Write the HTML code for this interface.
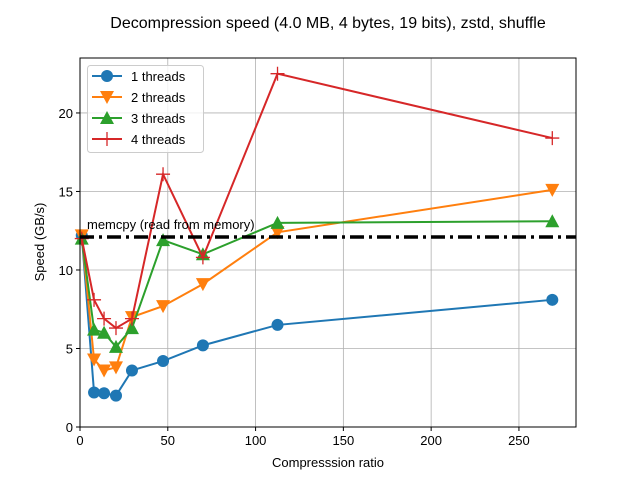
<!DOCTYPE html>
<html><head><meta charset="utf-8"><style>
html,body{margin:0;padding:0;background:#fff}
svg text{font-family:"Liberation Sans","DejaVu Sans",sans-serif}
</style></head><body>
<svg id="chart" width="640" height="480" xmlns="http://www.w3.org/2000/svg">
<rect width="640" height="480" fill="#fff"/>
<text x="328" y="28" font-size="16" text-anchor="middle">Decompression speed (4.0 MB, 4 bytes, 19 bits), zstd, shuffle</text>
<g id="grid"></g>
<g id="series"></g>
<rect x="80" y="58" width="496" height="369" fill="none" stroke="#000" stroke-width="1"/>
<g id="axes"></g>
<text x="328" y="467" font-size="13" text-anchor="middle">Compresssion ratio</text>
<text transform="translate(44,242) rotate(-90)" font-size="13" text-anchor="middle">Speed (GB/s)</text>
<g id="legend"></g>
</svg>
<script>
const ratios = [1, 8, 13.7, 20.5, 29.6, 47.3, 70, 112.5, 269];
const s1 = [12.2, 2.2, 2.15, 2.0, 3.6, 4.2, 5.2, 6.5, 8.1];
const s2 = [12.2, 4.3, 3.6, 3.8, 7.0, 7.7, 9.1, 12.4, 15.1];
const s3 = [12.0, 6.2, 6.0, 5.1, 6.3, 11.9, 11.0, 13.0, 13.1];
const s4 = [12.0, 8.1, 6.9, 6.3, 6.9, 16.1, 10.8, 22.5, 18.4];
const memcpy = 12.1;
const xTicks = [0, 50, 100, 150, 200, 250];
const yTicks = [0, 5, 10, 15, 20];
const seriesNames = ["1 threads", "2 threads", "3 threads", "4 threads"];

const NS = "http://www.w3.org/2000/svg";
const L = 80, R = 576, T = 58, B = 427, XMAX = 282.5, YMAX = 23.5;
const xs = v => L + v / XMAX * (R - L);
const ys = v => B - v / YMAX * (B - T);
function mk(tag, attrs, parent) { const e = document.createElementNS(NS, tag); for (const k in attrs) e.setAttribute(k, attrs[k]); parent.appendChild(e); return e; }
const grid = document.getElementById('grid'), axes = document.getElementById('axes'), ser = document.getElementById('series'), leg = document.getElementById('legend');

xTicks.forEach(t => {
  const g = mk('line', {x1: xs(t), x2: xs(t), y1: T, y2: B, stroke: '#b0b0b0', 'stroke-width': 0.8}, grid);
  
  
  mk('line', {x1: xs(t), x2: xs(t), y1: B, y2: B + 4, stroke: '#000'}, axes);
  const tx = mk('text', {x: xs(t), y: B + 18, 'font-size': 13, 'text-anchor': 'middle'}, axes);
  tx.textContent = t;
  
  
});
yTicks.forEach(t => {
  const g = mk('line', {x1: L, x2: R, y1: ys(t), y2: ys(t), stroke: '#b0b0b0', 'stroke-width': 0.8}, grid);
  
  
  mk('line', {x1: L - 4, x2: L, y1: ys(t), y2: ys(t), stroke: '#000'}, axes);
  const tx = mk('text', {x: L - 7, y: ys(t) + 5, 'font-size': 13, 'text-anchor': 'end'}, axes);
  tx.textContent = t;
  
  
});

const colors = ['#1f77b4', '#ff7f0e', '#2ca02c', '#d62728'];
function marker(kind, x, y, c, parent) {
  let e;
  if (kind === 0) e = mk('circle', {cx: x, cy: y, r: 6, fill: c}, parent);
  else if (kind === 1) e = mk('polygon', {points: `${x-7},${y-6} ${x+7},${y-6} ${x},${y+7}`, fill: c}, parent);
  else if (kind === 2) e = mk('polygon', {points: `${x-7},${y+6} ${x+7},${y+6} ${x},${y-7}`, fill: c}, parent);
  else e = mk('path', {d: `M${x-7},${y}H${x+7}M${x},${y-7}V${y+7}`, stroke: c, 'stroke-width': 1.3, fill: 'none'}, parent);
  return e;
}
[s1, s2, s3, s4].forEach((s, i) => {
  const g = mk('g', {}, ser);
  
  
  const p = mk('polyline', {points: s.map((v, j) => xs(ratios[j]) + ',' + ys(v)).join(' '), fill: 'none', stroke: colors[i], 'stroke-width': 2}, g);
  
  
  s.forEach((v, j) => {
    const m = marker(i, xs(ratios[j]), ys(v), colors[i], g);
    
    
  });
});
const ml = mk('line', {x1: L, x2: R, y1: ys(memcpy), y2: ys(memcpy), stroke: '#000', 'stroke-width': 3.5, 'stroke-dasharray': '14 5 3 5'}, ser);


const mt = mk('text', {x: 87, y: ys(memcpy) - 8, 'font-size': 13}, ser);
mt.textContent = 'memcpy (read from memory)';



const box = mk('rect', {x: 87.5, y: 65.5, width: 116, height: 87, rx: 3, fill: '#fff', 'fill-opacity': 0.8, stroke: '#ccc'}, leg);


seriesNames.forEach((n, i) => {
  const y = 76 + i * 21;
  const g = mk('g', {}, leg);
  
  
  mk('line', {x1: 92, x2: 122, y1: y, y2: y, stroke: colors[i], 'stroke-width': 2}, g);
  marker(i, 107, y, colors[i], g);
  const t = mk('text', {x: 131, y: y + 5, 'font-size': 13}, g);
  t.textContent = n;
});
</script>
</body></html>
